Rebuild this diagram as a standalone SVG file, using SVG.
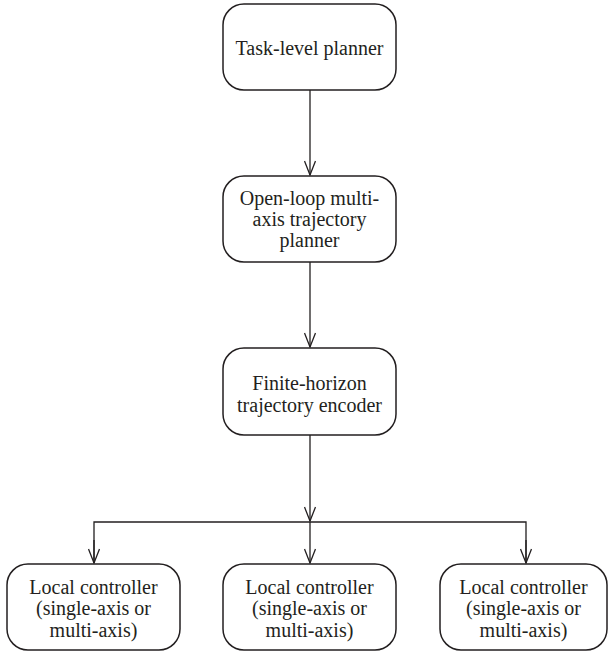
<svg xmlns="http://www.w3.org/2000/svg" width="609" height="653" viewBox="0 0 609 653">
<defs>
<marker id="arr" viewBox="0 0 16 12" refX="15" refY="6" markerWidth="16" markerHeight="12" markerUnits="userSpaceOnUse" orient="auto">
<path d="M1,0.5 L15,6 L1,11.5" fill="none" stroke="#231f20" stroke-width="1.3"/>
</marker>
<style>
.box{fill:#fff;stroke:#231f20;stroke-width:1.5}
.t{font-family:"Liberation Serif","Times New Roman",serif;font-size:20px;fill:#231f20;text-anchor:middle}
.c{fill:none;stroke:#231f20;stroke-width:1.3}
</style>
</defs>
<rect width="609" height="653" fill="#fff"/>
<g id="connectors">
<line class="c" x1="310" y1="90" x2="310" y2="175" marker-end="url(#arr)"/>
<line class="c" x1="310" y1="262" x2="310" y2="347" marker-end="url(#arr)"/>
<line class="c" x1="310" y1="435" x2="310" y2="521" marker-end="url(#arr)"/>
<polyline class="c" points="94,563 94,522 526,522 526,563"/>
<line class="c" x1="94" y1="540" x2="94" y2="563" marker-end="url(#arr)"/>
<line class="c" x1="526" y1="540" x2="526" y2="563" marker-end="url(#arr)"/>
<line class="c" x1="310" y1="522" x2="310" y2="563" marker-end="url(#arr)"/>
</g>
<g id="task-planner">
<rect class="box" x="223" y="4" width="173" height="86" rx="21"/>
<text class="t" x="309.5" y="55">Task-level planner</text>
</g>
<g id="trajectory-planner">
<rect class="box" x="223" y="176" width="173" height="86" rx="21"/>
<text class="t" x="309.5" y="205">Open-loop multi-</text>
<text class="t" x="309.5" y="226">axis trajectory</text>
<text class="t" x="309.5" y="247">planner</text>
</g>
<g id="trajectory-encoder">
<rect class="box" x="223" y="348" width="173" height="87" rx="21"/>
<text class="t" x="309.5" y="390">Finite-horizon</text>
<text class="t" x="309.5" y="412">trajectory encoder</text>
</g>
<g id="local-controller-1">
<rect class="box" x="7" y="564" width="173" height="86" rx="21"/>
<text class="t" x="93.5" y="594">Local controller</text>
<text class="t" x="93.5" y="615">(single-axis or</text>
<text class="t" x="93.5" y="637">multi-axis)</text>
</g>
<g id="local-controller-2">
<rect class="box" x="223" y="564" width="173" height="86" rx="21"/>
<text class="t" x="309.5" y="594">Local controller</text>
<text class="t" x="309.5" y="615">(single-axis or</text>
<text class="t" x="309.5" y="637">multi-axis)</text>
</g>
<g id="local-controller-3">
<rect class="box" x="440" y="564" width="167" height="86" rx="21"/>
<text class="t" x="523.5" y="594">Local controller</text>
<text class="t" x="523.5" y="615">(single-axis or</text>
<text class="t" x="523.5" y="637">multi-axis)</text>
</g>
</svg>
